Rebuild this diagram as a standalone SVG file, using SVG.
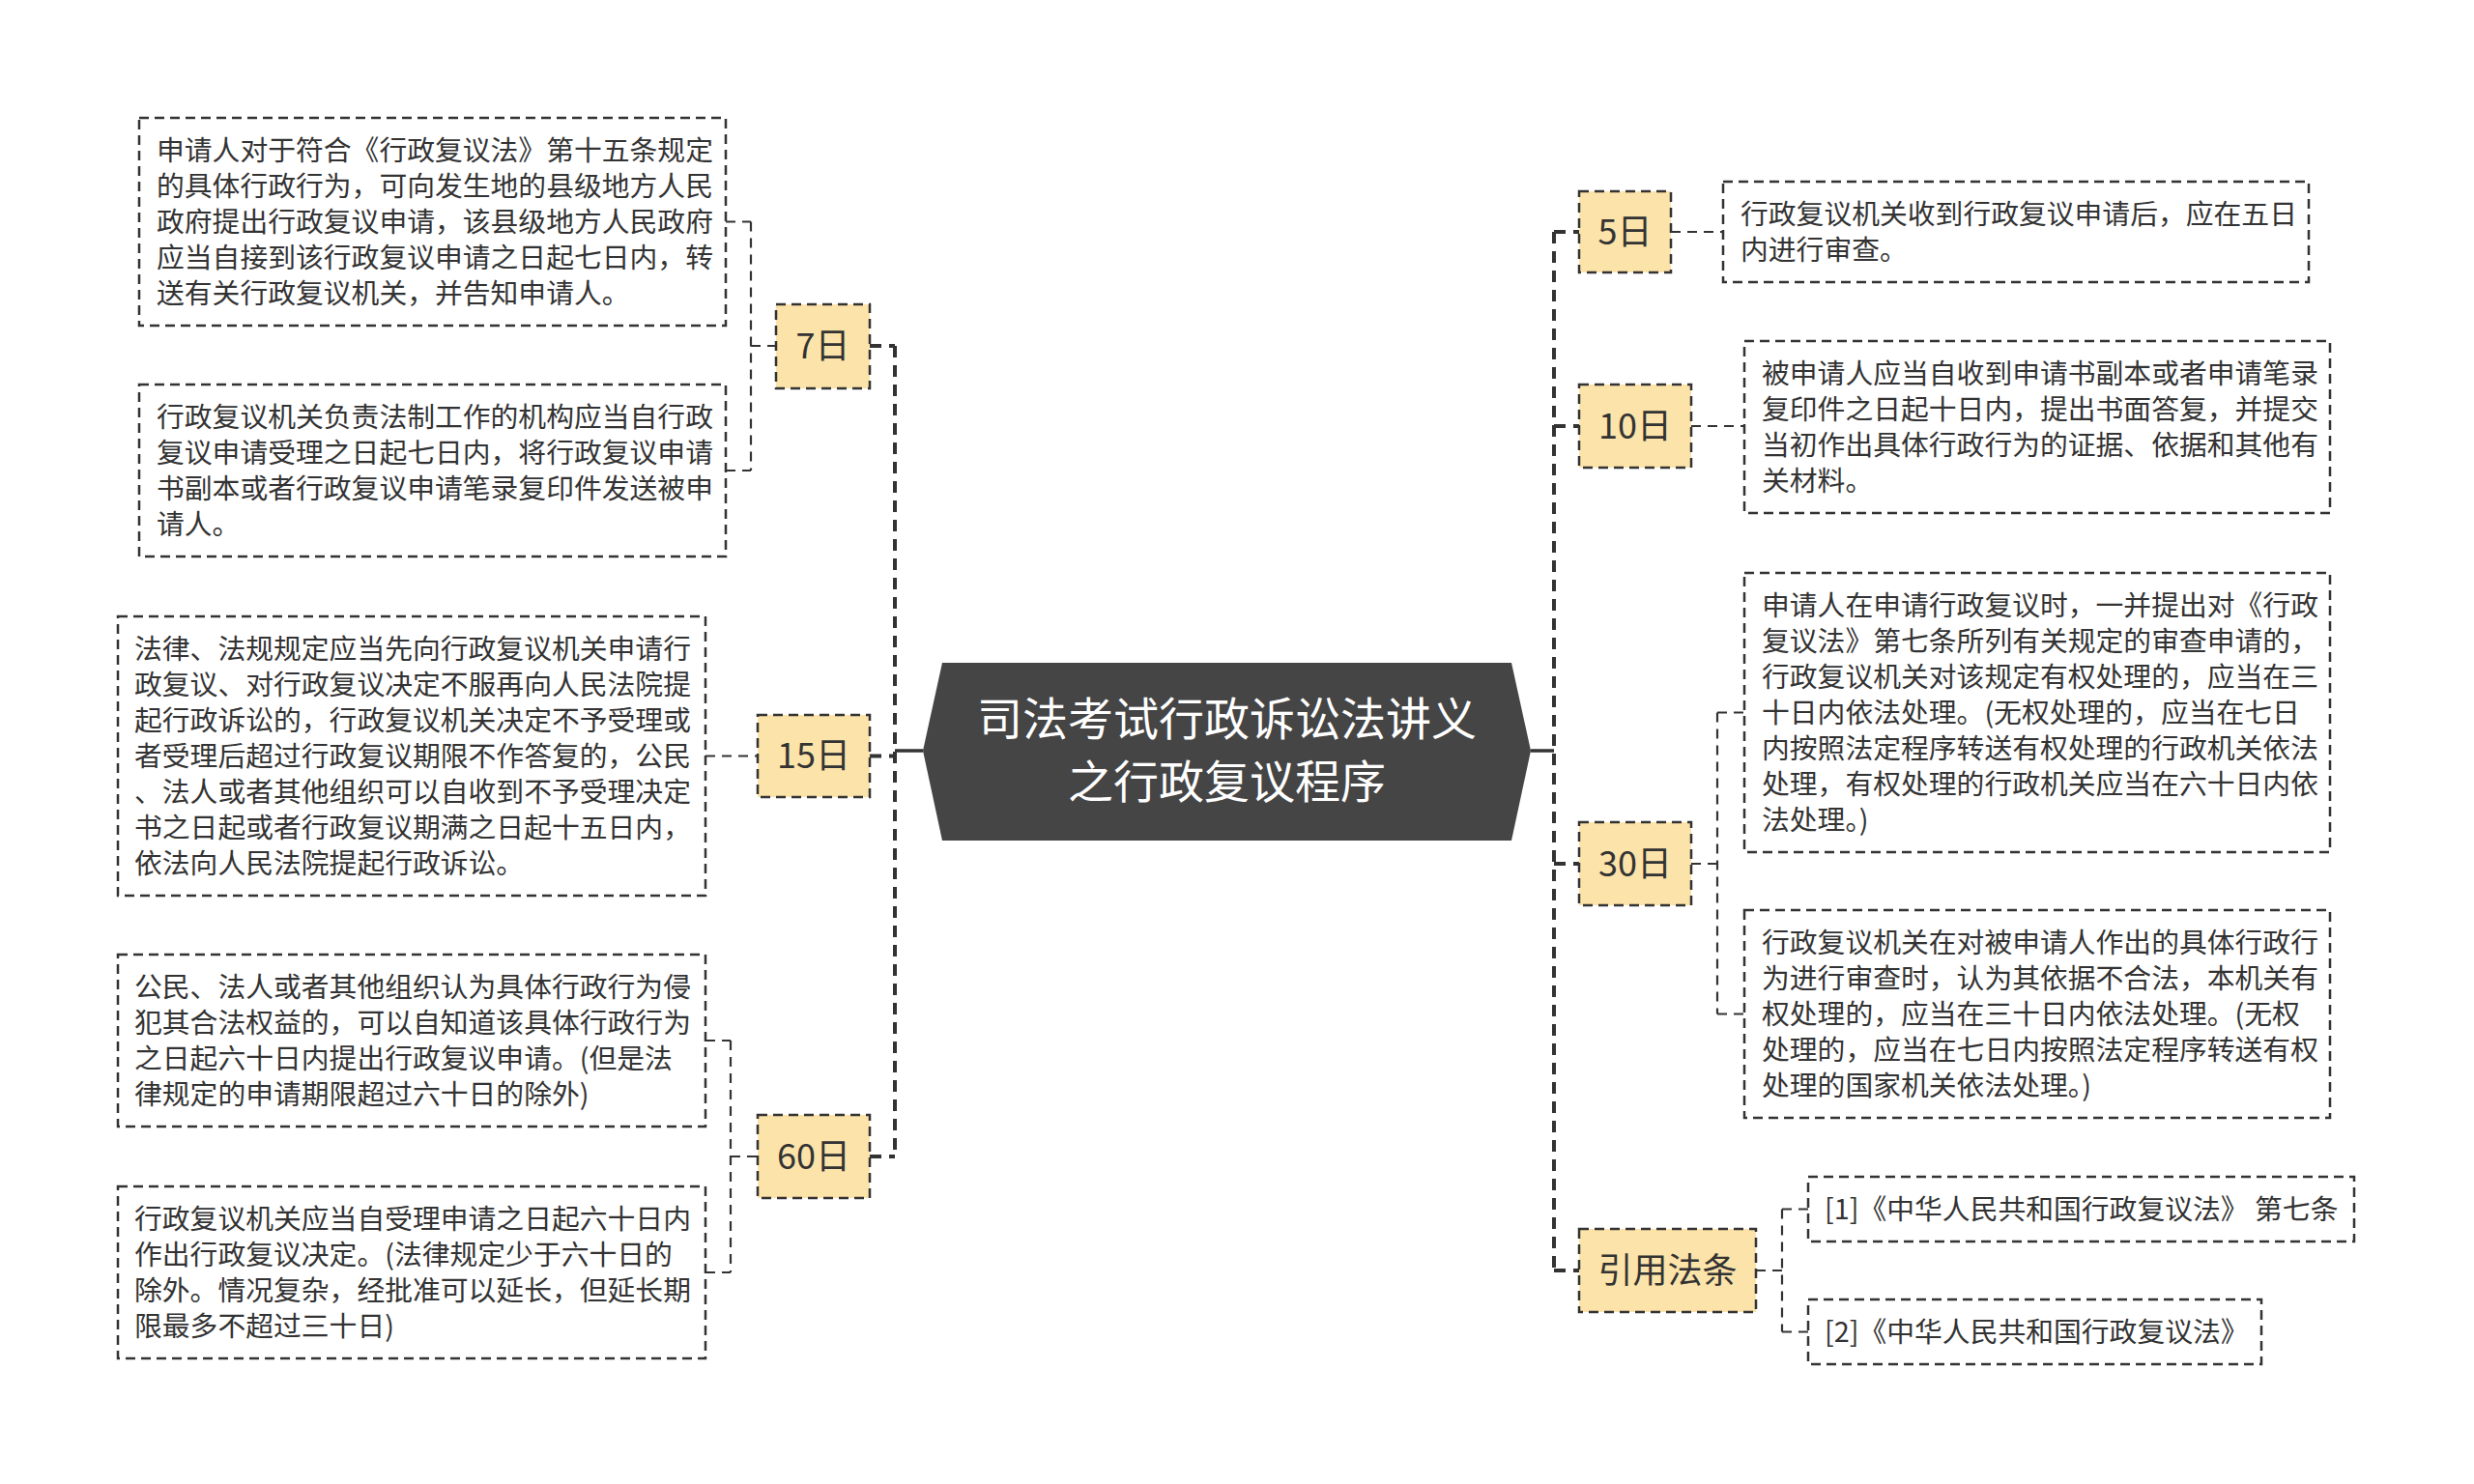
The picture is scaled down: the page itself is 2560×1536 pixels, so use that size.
<svg xmlns="http://www.w3.org/2000/svg" width="2560" height="1536" viewBox="0 0 2560 1536">
<style>
.bg{fill:#ffffff}
.leaf{fill:#ffffff;stroke:#333333;stroke-width:2.5;stroke-dasharray:10 6}
.l1{fill:#fce3a9;stroke:#333333;stroke-width:2.5;stroke-dasharray:10 6}
.conn{fill:none;stroke:#333333;stroke-width:2.2;stroke-dasharray:10 7}
.main{fill:none;stroke:#333333;stroke-width:4;stroke-dasharray:12 8}
.solid{fill:none;stroke:#333333;stroke-width:3.5}
.t{font-family:"Noto Sans CJK SC","Noto Sans",sans-serif;font-size:28.8px;fill:#333333}
.t1{font-family:"Noto Sans CJK SC","Noto Sans",sans-serif;font-size:36px;fill:#333333;text-anchor:middle}
.tc{font-family:"Noto Sans CJK SC","Noto Sans",sans-serif;font-size:47px;fill:#ffffff;text-anchor:middle}
</style>
<rect class="bg" x="0" y="0" width="2560" height="1536"/>
<g id="connectors">
<path class="solid" d="M926,777 H955 M1584,777 H1608"/>
<path class="main" d="M926,358 V1197 M900,358 H926 M900,782.5 H926 M900,1197 H926"/>
<path class="conn" d="M777,229.5 V487 M751,229.5 H777 M751,487 H777 M777,358 H803"/>
<path class="conn" d="M730,782.5 H784"/>
<path class="conn" d="M756,1077 V1317 M730,1077 H756 M730,1317 H756 M756,1197 H784"/>
<path class="main" d="M1608,240 V1315 M1608,240 H1634 M1608,441 H1634 M1608,894 H1634 M1608,1315 H1634"/>
<path class="conn" d="M1729,240 H1783 M1750,441 H1805"/>
<path class="conn" d="M1777,737.5 V1049.5 M1750,894 H1777 M1777,737.5 H1805 M1777,1049.5 H1805"/>
<path class="conn" d="M1844,1251.5 V1378.5 M1817,1315 H1844 M1844,1251.5 H1871 M1844,1378.5 H1871"/>
</g>
<g id="root">
<polygon points="975,686 1564,686 1584,777 1564,870 975,870 955,777" fill="#454545"/>
<text class="tc" x="1269.5" y="761">司法考试行政诉讼法讲义</text>
<text class="tc" x="1269.5" y="826">之行政复议程序</text>
</g>
<g id="n-7">
<rect class="l1" x="803" y="315" width="97" height="87"/>
<text class="t1" x="851.5" y="371">7日</text>
</g>
<g id="n-15">
<rect class="l1" x="784" y="740" width="116" height="85"/>
<text class="t1" x="842" y="795">15日</text>
</g>
<g id="n-60">
<rect class="l1" x="784" y="1154" width="116" height="86"/>
<text class="t1" x="842" y="1210">60日</text>
</g>
<g id="n-5">
<rect class="l1" x="1634" y="198" width="95" height="84"/>
<text class="t1" x="1681.5" y="253">5日</text>
</g>
<g id="n-10">
<rect class="l1" x="1634" y="398" width="116" height="86"/>
<text class="t1" x="1692" y="454">10日</text>
</g>
<g id="n-30">
<rect class="l1" x="1634" y="851" width="116" height="86"/>
<text class="t1" x="1692" y="907">30日</text>
</g>
<g id="n-ref">
<rect class="l1" x="1634" y="1272" width="183" height="86"/>
<text class="t1" x="1725.5" y="1328">引用法条</text>
</g>
<g id="leaf-l1">
<rect class="leaf" x="144" y="122" width="607" height="215"/>
<text class="t" x="162" y="166">申请人对于符合《行政复议法》第十五条规定</text>
<text class="t" x="162" y="203">的具体行政行为，可向发生地的县级地方人民</text>
<text class="t" x="162" y="240">政府提出行政复议申请，该县级地方人民政府</text>
<text class="t" x="162" y="277">应当自接到该行政复议申请之日起七日内，转</text>
<text class="t" x="162" y="314">送有关行政复议机关，并告知申请人。</text>
</g>
<g id="leaf-l2">
<rect class="leaf" x="144" y="398" width="607" height="178"/>
<text class="t" x="162" y="442">行政复议机关负责法制工作的机构应当自行政</text>
<text class="t" x="162" y="479">复议申请受理之日起七日内，将行政复议申请</text>
<text class="t" x="162" y="516">书副本或者行政复议申请笔录复印件发送被申</text>
<text class="t" x="162" y="553">请人。</text>
</g>
<g id="leaf-l3">
<rect class="leaf" x="122" y="638" width="608" height="289"/>
<text class="t" x="139" y="682">法律、法规规定应当先向行政复议机关申请行</text>
<text class="t" x="139" y="719">政复议、对行政复议决定不服再向人民法院提</text>
<text class="t" x="139" y="756">起行政诉讼的，行政复议机关决定不予受理或</text>
<text class="t" x="139" y="793">者受理后超过行政复议期限不作答复的，公民</text>
<text class="t" x="139" y="830">、法人或者其他组织可以自收到不予受理决定</text>
<text class="t" x="139" y="867">书之日起或者行政复议期满之日起十五日内，</text>
<text class="t" x="139" y="904">依法向人民法院提起行政诉讼。</text>
</g>
<g id="leaf-l4">
<rect class="leaf" x="122" y="988" width="608" height="178"/>
<text class="t" x="139" y="1032">公民、法人或者其他组织认为具体行政行为侵</text>
<text class="t" x="139" y="1069">犯其合法权益的，可以自知道该具体行政行为</text>
<text class="t" x="139" y="1106">之日起六十日内提出行政复议申请。(但是法</text>
<text class="t" x="139" y="1143">律规定的申请期限超过六十日的除外)</text>
</g>
<g id="leaf-l5">
<rect class="leaf" x="122" y="1228" width="608" height="178"/>
<text class="t" x="139" y="1272">行政复议机关应当自受理申请之日起六十日内</text>
<text class="t" x="139" y="1309">作出行政复议决定。(法律规定少于六十日的</text>
<text class="t" x="139" y="1346">除外。情况复杂，经批准可以延长，但延长期</text>
<text class="t" x="139" y="1383">限最多不超过三十日)</text>
</g>
<g id="leaf-r1">
<rect class="leaf" x="1783" y="188" width="606" height="104"/>
<text class="t" x="1801" y="232">行政复议机关收到行政复议申请后，应在五日</text>
<text class="t" x="1801" y="269">内进行审查。</text>
</g>
<g id="leaf-r2">
<rect class="leaf" x="1805" y="353" width="606" height="178"/>
<text class="t" x="1823" y="397">被申请人应当自收到申请书副本或者申请笔录</text>
<text class="t" x="1823" y="434">复印件之日起十日内，提出书面答复，并提交</text>
<text class="t" x="1823" y="471">当初作出具体行政行为的证据、依据和其他有</text>
<text class="t" x="1823" y="508">关材料。</text>
</g>
<g id="leaf-r3">
<rect class="leaf" x="1805" y="593" width="606" height="289"/>
<text class="t" x="1823" y="637">申请人在申请行政复议时，一并提出对《行政</text>
<text class="t" x="1823" y="674">复议法》第七条所列有关规定的审查申请的，</text>
<text class="t" x="1823" y="711">行政复议机关对该规定有权处理的，应当在三</text>
<text class="t" x="1823" y="748">十日内依法处理。(无权处理的，应当在七日</text>
<text class="t" x="1823" y="785">内按照法定程序转送有权处理的行政机关依法</text>
<text class="t" x="1823" y="822">处理，有权处理的行政机关应当在六十日内依</text>
<text class="t" x="1823" y="859">法处理。)</text>
</g>
<g id="leaf-r4">
<rect class="leaf" x="1805" y="942" width="606" height="215"/>
<text class="t" x="1823" y="986">行政复议机关在对被申请人作出的具体行政行</text>
<text class="t" x="1823" y="1023">为进行审查时，认为其依据不合法，本机关有</text>
<text class="t" x="1823" y="1060">权处理的，应当在三十日内依法处理。(无权</text>
<text class="t" x="1823" y="1097">处理的，应当在七日内按照法定程序转送有权</text>
<text class="t" x="1823" y="1134">处理的国家机关依法处理。)</text>
</g>
<g id="leaf-c1">
<rect class="leaf" x="1871" y="1218" width="565" height="67"/>
<text class="t" x="1888" y="1262">[1]《中华人民共和国行政复议法》 第七条</text>
</g>
<g id="leaf-c2">
<rect class="leaf" x="1871" y="1345" width="469" height="67"/>
<text class="t" x="1888" y="1389">[2]《中华人民共和国行政复议法》</text>
</g>
</svg>
